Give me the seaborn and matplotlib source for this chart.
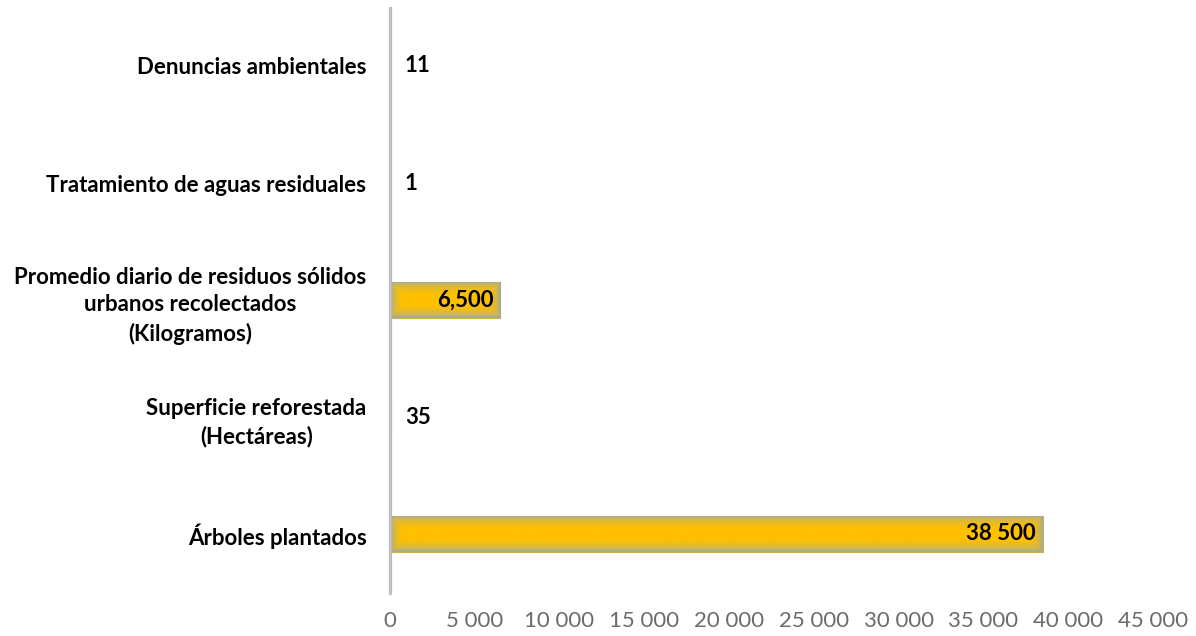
import numpy as np
import pandas as pd
import matplotlib
matplotlib.use('Agg')
import matplotlib.pyplot as plt
import seaborn as sns

categories = ['Denuncias ambientales',
              'Tratamiento de aguas residuales',
              'Promedio diario de residuos sólidos\nurbanos recolectados\n(Kilogramos)',
              'Superficie reforestada\n(Hectáreas)',
              'Árboles plantados']
values = [11, 1, 6500, 35, 38500]
value_labels = ['11', '1', '6,500', '35', '38 500']
xticks = [0, 5000, 10000, 15000, 20000, 25000, 30000, 35000, 40000, 45000]
xtick_labels = ['0', '5 000', '10 000', '15 000', '20 000', '25 000', '30 000', '35 000', '40 000', '45 000']

gold = np.array([255, 192, 0]) / 255
edge = np.array([168, 174, 140]) / 255


def gradient_fill(ax, patch, fig):
  # soft grey-green glow along the border of each bar, gold in the middle
  bb = patch.get_window_extent(fig.canvas.get_renderer())
  w, h = int(max(bb.width, 2)), int(max(bb.height, 2))
  xx = np.arange(w)[None, :]
  yy = np.arange(h)[:, None]
  d = np.minimum(np.minimum(xx, w - 1 - xx), np.minimum(yy, h - 1 - yy)).astype(float)
  a = np.clip((d - 1) / 11.0, 0, 1)
  a = np.sqrt(a)[..., None]
  img = edge * (1 - a) + gold * a
  x0, y0 = patch.get_x(), patch.get_y()
  im = ax.imshow(img, extent=[x0, x0 + patch.get_width(), y0 + patch.get_height(), y0],
                 aspect='auto', zorder=patch.get_zorder() + 0.1, interpolation='bilinear')
  im.set_clip_path(patch)


sns.set_style('white')
plt.rcParams['font.family'] = ['Lato', 'DejaVu Sans']

df = pd.DataFrame({'cat': categories, 'val': values})

fig = plt.figure(figsize=(11.96, 6.36), dpi=100)
ax = fig.add_axes([390 / 1196, 1 - 592.5 / 636, 763 / 1196, 585 / 636])

sns.barplot(ax=ax, data=df, x='val', y='cat', order=categories, orient='h',
            color='#FFC000', width=0.31, saturation=1, linewidth=0)

ax.set_xlim(0, 45000)
ax.set_ylim(4.5, -0.5)
fig.canvas.draw()
for p in ax.patches:
  if p.get_width() > 0:
    gradient_fill(ax, p, fig)
    p.set_edgecolor('#CDB04A')
    p.set_linewidth(0.8)

px = 45000 / 763
for i, (v, lab) in enumerate(zip(values, value_labels)):
  if v > 2000:
    ax.text(v - 7 * px, i, lab, ha='right', va='center', fontsize=16, fontweight='bold',
            color='black', zorder=5)
  else:
    ax.text(15 * px, i, lab, ha='left', va='center', fontsize=16, fontweight='bold',
            color='black', zorder=5)

ax.set_xticks(xticks)
ax.set_xticklabels(xtick_labels, fontsize=16, color='#6b6b6b')
ax.set_yticks(range(len(categories)))
ax.set_yticklabels(categories, fontsize=16, fontweight='bold', color='black',
                   multialignment='center', linespacing=1.4)
ax.tick_params(axis='x', length=0, pad=13)
ax.tick_params(axis='y', length=0, pad=17)
ax.set_xlabel('')
ax.set_ylabel('')

for s in ['top', 'right', 'bottom']:
  ax.spines[s].set_visible(False)
ax.spines['left'].set_color('#BFBFBF')
ax.spines['left'].set_linewidth(2.3)
ax.spines['left'].set_zorder(6)
ax.grid(False)

fig.savefig('out.png', dpi=100)
